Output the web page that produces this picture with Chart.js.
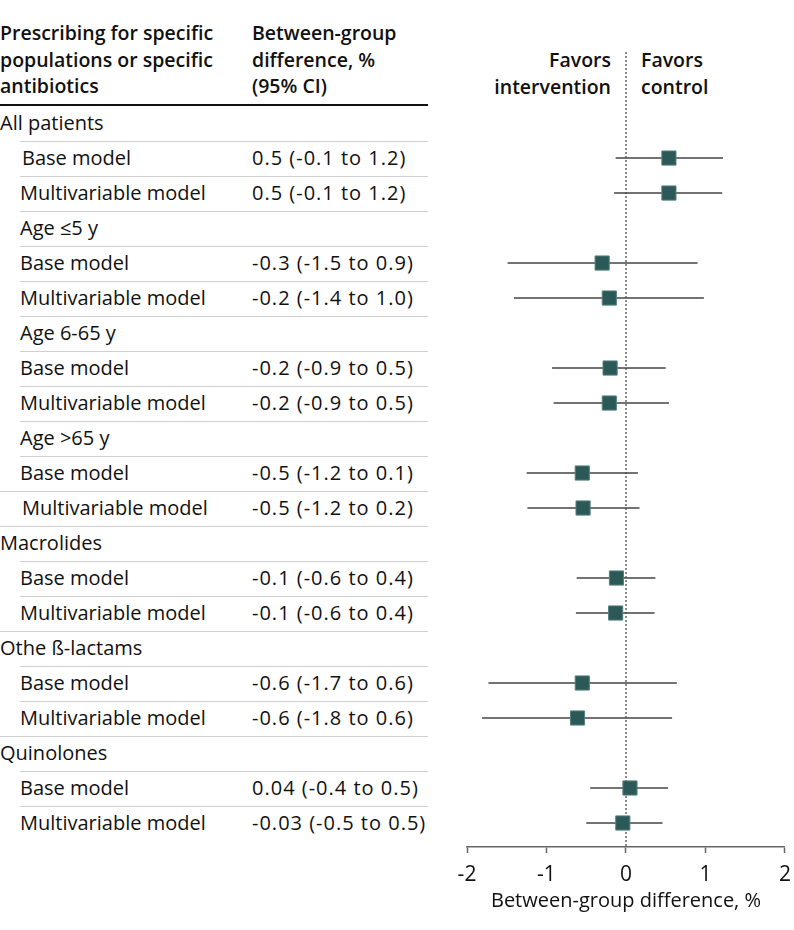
<!DOCTYPE html>
<html>
<head>
<meta charset="utf-8">
<script src="https://cdn.jsdelivr.net/npm/chart.js@4.4.1/dist/chart.umd.min.js"></script>
<style>
  body { margin: 0; width: 794px; height: 930px; background: #fff; position: relative; overflow: hidden;
         font-family: "Open Sans", "DejaVu Sans", sans-serif; color: #111; }
  .row { position: absolute; white-space: nowrap; font-size: 20px; line-height: 33px; height: 35px; }
  .val { letter-spacing: 1px; }
  .head { position: absolute; white-space: nowrap; font-size: 19.5px; font-weight: 600; line-height: 26.5px; }
  .sep { position: absolute; height: 1px; background: #cfcfcf; }
  #wrap { position: absolute; left: 430px; top: 0; width: 370px; height: 930px; }
</style>
</head>
<body>
<div class="head" style="left:0;top:20px">Prescribing for specific<br>populations or specific<br>antibiotics</div>
<div class="head" style="left:252px;top:20px">Between-group<br>difference, %<br>(95% CI)</div>
<div style="position:absolute;left:0;top:104px;width:428px;height:2px;background:#111"></div>
<div class="head" style="right:183px;top:47px;text-align:right">Favors<br>intervention</div>
<div class="head" style="left:641px;top:47px">Favors<br>control</div>
<div id="table"></div>
<div id="wrap"><canvas id="forest" width="370" height="930"></canvas></div>

<script>
// Lignes du tableau (groupes et modèles)
const rowLabels = [
  'All patients', 'Base model', 'Multivariable model',
  'Age ≤5 y', 'Base model', 'Multivariable model',
  'Age 6-65 y', 'Base model', 'Multivariable model',
  'Age >65 y', 'Base model', 'Multivariable model',
  'Macrolides', 'Base model', 'Multivariable model',
  'Othe ß-lactams', 'Base model', 'Multivariable model',
  'Quinolones', 'Base model', 'Multivariable model'
];
const ciText = [
  '', '0.5 (-0.1 to 1.2)', '0.5 (-0.1 to 1.2)',
  '', '-0.3 (-1.5 to 0.9)', '-0.2 (-1.4 to 1.0)',
  '', '-0.2 (-0.9 to 0.5)', '-0.2 (-0.9 to 0.5)',
  '', '-0.5 (-1.2 to 0.1)', '-0.5 (-1.2 to 0.2)',
  '', '-0.1 (-0.6 to 0.4)', '-0.1 (-0.6 to 0.4)',
  '', '-0.6 (-1.7 to 0.6)', '-0.6 (-1.8 to 0.6)',
  '', '0.04 (-0.4 to 0.5)', '-0.03 (-0.5 to 0.5)'
];
// Valeurs (point estimé et IC 95 %)
const estimates = [null, 0.54, 0.54, null, -0.30, -0.21, null, -0.20, -0.21, null, -0.55, -0.54, null, -0.12, -0.13, null, -0.55, -0.61, null, 0.05, -0.04];
const ciLow     = [null, -0.13, -0.15, null, -1.49, -1.41, null, -0.93, -0.91, null, -1.25, -1.24, null, -0.62, -0.63, null, -1.73, -1.81, null, -0.45, -0.50];
const ciHigh    = [null, 1.22, 1.21, null, 0.90, 0.98, null, 0.50, 0.54, null, 0.15, 0.17, null, 0.37, 0.36, null, 0.64, 0.58, null, 0.53, 0.46];
const xTicks = [-2, -1, 0, 1, 2];
const xTitle = 'Between-group difference, %';
const referenceValue = 0;

const topGroups = ['All patients', 'Macrolides', 'Othe ß-lactams', 'Quinolones'];
const ROW_H = 35, FIRST_Y = 123;

// Tableau de gauche en HTML
const table = document.getElementById('table');
rowLabels.forEach((label, i) => {
  const top = FIRST_Y + ROW_H * i - ROW_H / 2;
  let indent = topGroups.includes(label) ? 0 : 20;
  if (i === 1 || i === 11) indent = 22;
  const l = document.createElement('div');
  l.className = 'row';
  l.style.left = indent + 'px';
  l.style.top = top + 'px';
  l.textContent = label;
  table.appendChild(l);
  if (ciText[i]) {
    const v = document.createElement('div');
    v.className = 'row val';
    v.style.left = '252px';
    v.style.top = top + 'px';
    v.textContent = ciText[i];
    table.appendChild(v);
  }
  if (i < rowLabels.length - 1) {
    const s = document.createElement('div');
    s.className = 'sep';
    const full = topGroups.includes(rowLabels[i + 1]) || i === 10;
    const left = full ? 0 : 20;
    s.style.left = left + 'px';
    s.style.width = (428 - left) + 'px';
    s.style.top = (top + ROW_H) + 'px';
    table.appendChild(s);
  }
});

// Graphique en forêt
const yMin = -2.03, yMax = 20.686;
const datasets = [];
datasets.push({
  type: 'scatter',
  data: rowLabels.map((_, i) => estimates[i] === null ? null : { x: estimates[i], y: i }).filter(p => p),
  pointStyle: 'rect',
  pointRadius: 10,
  pointHoverRadius: 10,
  backgroundColor: '#2a5957',
  borderColor: '#55807d',
  borderWidth: 1,
  order: 0
});
rowLabels.forEach((_, i) => {
  if (estimates[i] === null) return;
  datasets.push({
    type: 'line',
    data: [{ x: ciLow[i], y: i }, { x: ciHigh[i], y: i }],
    borderColor: '#454545',
    borderWidth: 1.5,
    pointRadius: 0,
    order: 1
  });
});
datasets.push({
  type: 'line',
  data: [{ x: referenceValue, y: yMin }, { x: referenceValue, y: yMax }],
  borderColor: '#666',
  borderWidth: 1.5,
  borderDash: [2, 2],
  pointRadius: 0,
  order: 2
});

new Chart(document.getElementById('forest'), {
  type: 'scatter',
  data: { datasets },
  options: {
    responsive: false,
    devicePixelRatio: 1,
    animation: false,
    layout: { padding: { left: 37, right: 4, top: 52, bottom: 13 } },
    plugins: { legend: { display: false }, tooltip: { enabled: false } },
    scales: {
      x: {
        type: 'linear',
        min: -2, max: 2,
        afterBuildTicks: s => { s.ticks = xTicks.map(v => ({ value: v })); },
        afterFit: s => { s.height = 70; },
        ticks: { color: '#111', font: { family: 'Open Sans', size: 21 }, padding: 9 },
        grid: { drawOnChartArea: false, drawTicks: true, tickLength: 6, tickColor: '#666', tickWidth: 1.5 },
        border: { color: '#666', width: 1.5 },
        title: { display: true, text: xTitle, color: '#111', font: { family: 'Open Sans', size: 20 }, padding: { top: 2 } }
      },
      y: { type: 'linear', reverse: true, min: yMin, max: yMax, display: false }
    }
  }
});
</script>
</body>
</html>
